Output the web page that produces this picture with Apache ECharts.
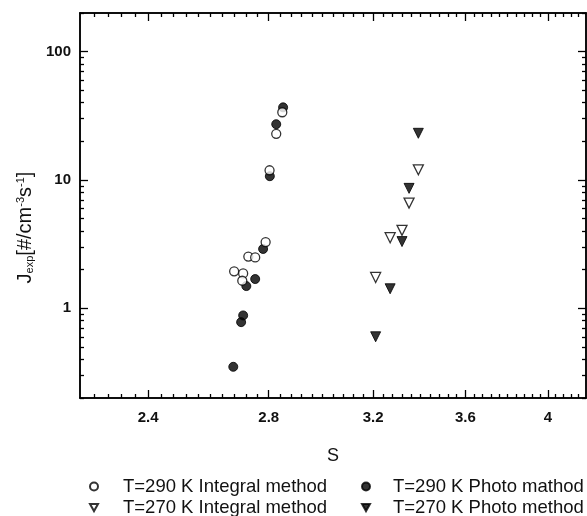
<!DOCTYPE html>
<html>
<head>
<meta charset="utf-8">
<script src="https://cdn.jsdelivr.net/npm/echarts@6/dist/echarts.min.js"></script>
<style>
html,body{margin:0;padding:0;background:#fff;}
#chart{width:587px;height:516px;}
</style>
</head>
<body>
<div id="chart"></div>
<script>
// data (S, J)
var sInt290 = [2.679, 2.710, 2.707, 2.728, 2.752, 2.789, 2.803, 2.827, 2.849];
var jInt290 = [1.94, 1.87, 1.64, 2.53, 2.49, 3.28, 11.9, 22.9, 33.7];
var sPho290 = [2.676, 2.703, 2.710, 2.721, 2.752, 2.780, 2.804, 2.827, 2.852];
var jPho290 = [0.35, 0.78, 0.88, 1.49, 1.69, 2.90, 10.7, 27.2, 36.8];
var sInt270 = [3.21, 3.27, 3.32, 3.35, 3.39];
var jInt270 = [1.74, 3.55, 4.05, 6.6, 12.0];
var sPho270 = [3.21, 3.27, 3.32, 3.35, 3.39];
var jPho270 = [0.60, 1.42, 3.31, 8.6, 23.1];

var xMajor = [2.4, 2.8, 3.2, 3.6, 4];
var yMajor = [1, 10, 100];
var yMinor = [0.2, 0.3, 0.4, 0.5, 0.6, 0.7, 0.8, 0.9, 2, 3, 4, 5, 6, 7, 8, 9,
              20, 30, 40, 50, 60, 70, 80, 90, 200];
var xMinor = [];
for (var k = 56; k <= 104; k++) {
    var v = Math.round(k * 4) / 100;
    if (xMajor.indexOf(v) < 0) xMinor.push(v);
}

function pairs(xs, ys) {
    return xs.map(function (x, i) { return [x, ys[i]]; });
}

var FONT = 'Liberation Sans, Arial, sans-serif';
var lineSt = {color: '#000', width: 1.5};
var labelSt = {color: '#111', fontSize: 15, fontWeight: 'bold', fontFamily: FONT};
var DOWN = 'path://M0,0 L10,0 L5,9 Z';

function ax(pos, mn, mx, ticks, len, labels) {
    return {
        type: 'log', logBase: 10, position: pos, min: mn, max: mx,
        axisLine: {show: true, lineStyle: lineSt},
        axisTick: {show: true, inside: true, length: len, customValues: ticks, lineStyle: {color: '#000', width: 1.3}},
        axisLabel: labels ? Object.assign({customValues: labels, formatter: function (v) { return String(+v.toFixed(2)); }}, labelSt) : {show: false},
        splitLine: {show: false}
    };
}

var myChart = echarts.init(document.getElementById('chart'));
var xb = ax('bottom', 2.2, 4.2, xMajor, 8, xMajor);
xb.axisLabel.margin = 12;
xb.name = 'S';
xb.nameLocation = 'middle';
xb.nameGap = 49;
xb.nameTextStyle = {color: '#111', fontSize: 18, fontFamily: FONT};

var yl = ax('left', 0.2, 200, yMajor, 8, yMajor);
yl.axisLabel.margin = 9;
yl.name = '{b|J}{sub|exp}{b|[#/cm}{sup|-3}{b|s}{sup|-1}{b|]}';
yl.nameLocation = 'middle';
yl.nameGap = 42;
yl.nameTextStyle = {
    color: '#111', fontFamily: FONT, padding: [0, 44, 0, 0],
    rich: {
        b: {fontSize: 20, color: '#111', fontFamily: FONT},
        sub: {fontSize: 11, color: '#111', verticalAlign: 'bottom', padding: [8, 0, 0, 0], fontFamily: FONT},
        sup: {fontSize: 11, color: '#111', verticalAlign: 'top', padding: [0, 0, 8, 0], fontFamily: FONT}
    }
};

var openSt = {color: '#fff', borderColor: '#000', borderWidth: 1.3};
var fillSt = {color: '#000', borderColor: '#000', borderWidth: 1};

// one legend per entry, 2 x 2 layout
function legendItem(left, top, name, pad, icon) {
    var d = {name: name};
    if (icon) d.icon = icon;
    return {
        left: left, top: top, itemWidth: 8, itemHeight: 8,
        textStyle: {color: '#111', fontSize: 18.5, padding: [0, 0, 0, pad], fontFamily: FONT},
        data: [d]
    };
}

var option = {
    backgroundColor: '#fff',
    animation: false,
    grid: {left: 80, right: 1, top: 13, bottom: 118},
    legend: [
        legendItem(84, 472, 'T=290 K Integral method', 20),
        legendItem(84, 493, 'T=270 K Integral method', 20, DOWN),
        legendItem(356, 472, 'T=290 K Photo mathod', 18),
        legendItem(356, 493, 'T=270 K Photo method', 18, DOWN)
    ],
    xAxis: [xb, ax('bottom', 2.2, 4.2, xMinor, 4), ax('top', 2.2, 4.2, xMajor, 8), ax('top', 2.2, 4.2, xMinor, 4)],
    yAxis: [yl, ax('left', 0.2, 200, yMinor, 4), ax('right', 0.2, 200, yMajor, 8), ax('right', 0.2, 200, yMinor, 4)],
    series: [
        {name: 'T=290 K Photo mathod', type: 'scatter', symbol: 'circle', symbolSize: 9, itemStyle: fillSt, data: pairs(sPho290, jPho290)},
        {name: 'T=290 K Integral method', type: 'scatter', symbol: 'circle', symbolSize: 9, itemStyle: openSt, data: pairs(sInt290, jInt290)},
        {name: 'T=270 K Photo method', type: 'scatter', symbol: 'triangle', symbolRotate: 180, symbolSize: 10, itemStyle: fillSt, data: pairs(sPho270, jPho270)},
        {name: 'T=270 K Integral method', type: 'scatter', symbol: 'triangle', symbolRotate: 180, symbolSize: 10, itemStyle: openSt, data: pairs(sInt270, jInt270)}
    ]
};
myChart.setOption(option);
window.onresize = myChart.resize;
</script>
</body>
</html>
